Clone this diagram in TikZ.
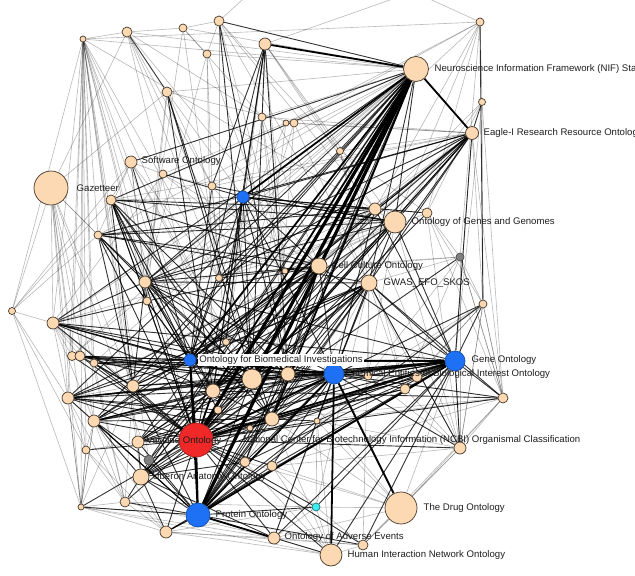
\documentclass[tikz,border=0pt]{standalone}
\usepackage{fontspec}
\setmainfont{Liberation Sans}
\usetikzlibrary{backgrounds}
\definecolor{peach}{RGB}{252,217,178}
\definecolor{nborder}{RGB}{70,55,40}
\definecolor{nblue}{RGB}{30,112,245}
\definecolor{nred}{RGB}{240,40,40}
\definecolor{ngrey}{RGB}{128,128,128}
\definecolor{ncyan}{RGB}{60,235,235}
\definecolor{ltext}{RGB}{30,30,30}
\tikzset{
  nd/.style={circle, draw=nborder, line width=0.7pt, fill=peach, inner sep=0pt},
  bl/.style={nd, fill=nblue, draw=nblue!70!black},
  rd/.style={nd, fill=nred, draw=nred!70!black},
  gy/.style={nd, fill=ngrey, draw=ngrey!60!black},
  cn/.style={nd, fill=ncyan, draw=ncyan!50!black},
  lbl/.style={anchor=west, inner sep=0.5pt, text=ltext, font=\fontsize{9.6}{11}\selectfont},
  eg/.style={draw=black, opacity=0.28, line width=0.6pt},
  em/.style={draw=black, opacity=0.8, line width=0.9pt},
  et/.style={draw=black, line width=1.8pt},
  ev/.style={draw=black, line width=3.2pt},
}
\begin{document}
\begin{tikzpicture}[x=1pt,y=-1pt]
\clip (0,0) rectangle (635,576);
% nodes
\node[nd, minimum size=6pt]  (t1) at (83,39) {};
\node[nd, minimum size=10pt] (t2) at (127,32) {};
\node[nd, minimum size=8pt]  (t3) at (183,28) {};
\node[nd, minimum size=10pt] (t4) at (219,21) {};
\node[nd, minimum size=12pt] (t5) at (265,44) {};
\node[nd, minimum size=8pt]  (t6) at (207,54) {};
\node[nd, minimum size=10pt] (t7) at (167,92) {};
\node[nd, minimum size=25pt] (nif) at (416,69) {};
\node[nd, minimum size=8pt]  (t8) at (480,22) {};
\node[nd, minimum size=7pt]  (t9) at (482,102) {};
\node[nd, minimum size=13pt] (eagle) at (472,133) {};
\node[nd, minimum size=8pt]  (t10) at (262,117) {};
\node[nd, minimum size=6pt]  (t11) at (286,123) {};
\node[nd, minimum size=8pt]  (t12) at (294,123) {};
\node[nd, minimum size=7pt]  (t13) at (340,151) {};
\node[nd, minimum size=12pt] (sw) at (131,162) {};
\node[nd, minimum size=8pt]  (t14) at (163,174) {};
\node[nd, minimum size=8pt]  (t15) at (212,186) {};
\node[bl, minimum size=12pt] (b1) at (243,197) {};
\node[nd, minimum size=34pt] (gaz) at (51,188) {};
\node[nd, minimum size=10pt] (t16) at (111,200) {};
\node[nd, minimum size=8pt]  (t17) at (98,235) {};
\node[nd, minimum size=12pt] (t18) at (375,209) {};
\node[nd, minimum size=22pt] (ogg) at (395,222) {};
\node[nd, minimum size=10pt] (t19) at (427,213) {};
\node[gy, minimum size=8pt]  (g1) at (460,257) {};
\node[nd, minimum size=16pt] (cco) at (319,266) {};
\node[nd, minimum size=6pt]  (t20) at (285,271) {};
\node[nd, minimum size=7pt]  (t21) at (219,278) {};
\node[nd, minimum size=16pt] (gwas) at (369,283) {};
\node[nd, minimum size=8pt]  (t22) at (483,304) {};
\node[nd, minimum size=7pt]  (t23) at (226,342) {};
\node[nd, minimum size=12pt] (t24) at (145,282) {};
\node[nd, minimum size=8pt]  (t25) at (147,301) {};
\node[nd, minimum size=7pt]  (t28) at (12,311) {};
\node[nd, minimum size=12pt] (t29) at (53,323) {};
\node[nd, minimum size=9pt]  (t31) at (72,356) {};
\node[nd, minimum size=10pt] (t32) at (80,356) {};
\node[nd, minimum size=8pt]  (t33) at (94,363) {};
\node[bl, minimum size=12pt] (obi) at (190,360) {};
\node[bl, minimum size=20pt] (go) at (455,361) {};
\node[bl, minimum size=20pt] (chebi) at (334,374) {};
\node[nd, minimum size=20pt] (t35) at (252,379) {};
\node[nd, minimum size=14pt] (t36) at (288,374) {};
\node[nd, minimum size=12pt] (t37) at (133,386) {};
\node[nd, minimum size=14pt] (t38) at (213,391) {};
\node[nd, minimum size=12pt] (t39) at (68,398) {};
\node[nd, minimum size=8pt]  (t40) at (218,410) {};
\node[nd, minimum size=14pt] (t41) at (272,419) {};
\node[nd, minimum size=6pt]  (t42) at (250,428) {};
\node[nd, minimum size=12pt] (t43) at (94,421) {};
\node[nd, minimum size=6pt]  (t44) at (317,421) {};
\node[nd, minimum size=8pt]  (t45) at (368,376) {};
\node[nd, minimum size=10pt] (t46) at (417,377) {};
\node[nd, minimum size=10pt] (t47) at (405,389) {};
\node[nd, minimum size=10pt] (t55) at (503,398) {};
\node[nd, minimum size=12pt] (vac) at (138,442) {};
\node[gy, minimum size=10pt] (g2) at (149,460) {};
\node[nd, minimum size=16pt] (ub) at (141,477) {};
\node[nd, minimum size=10pt] (t48) at (245,462) {};
\node[nd, minimum size=10pt] (t49) at (272,466) {};
\node[nd, minimum size=12pt] (t50) at (460,448) {};
\node[nd, minimum size=8pt]  (t52) at (86,450) {};
\node[nd, minimum size=6pt]  (t53) at (81,507) {};
\node[nd, minimum size=10pt] (t54) at (125,502) {};
\node[nd, minimum size=12pt] (t56) at (166,532) {};
\node[bl, minimum size=24pt] (pro) at (198,515) {};
\node[cn, minimum size=8pt]  (cy) at (316,507) {};
\node[nd, minimum size=32pt] (drug) at (401,508) {};
\node[nd, minimum size=12pt] (oae) at (274,538) {};
\node[nd, minimum size=10pt] (t57) at (363,545) {};
\node[nd, minimum size=22pt] (hino) at (331,555) {};
\node[rd, minimum size=34pt] (ncbi) at (196,440) {};
\coordinate (off1) at (330,-80);
\coordinate (off2) at (560,-60);
\coordinate (off3) at (300,-60);
% edges
\begin{scope}[on background layer]
\foreach \h/\ts in {
 t1/{t28,t29,t31,t32,t33,t39,t43,t52,t53,t17,t24,t25,obi,t37,vac,ub,t2,t8,t21,t23,ogg,g2,ncbi,t38},
 gaz/{t29,t31,t39,t43,t52,t53,t54,t17,t24,t2,t7,t37,g2},
 t28/{t16,gaz,t29,t17,t53,t52,t39,sw},
 t2/{t3,t10,t36,t38,t21,t15,cco},
 t3/{t4,t6,t21,t24,t10},
 t4/{t6,t13,t18,gwas,t21,t20,off1},
 t5/{t10,t13,t18,ogg,t20,t23,off2},
 t6/{t15,t38,t24,t20},
 t7/{t15,t24,t25,b1,t12},
 t8/{t9,t18,ogg,g1,t12,t11,off3,t13,t19},
 t9/{t19,ogg,t18,t22,go},
 eagle/{t12,t11,t13,t10,t15,t21,t20,t23,t16,t22,t55,go},
 nif/{t1,t2,t3,t6,t7,t10,t14,t15,t17,t25,t31,t33},
 t10/{t20,cco,t23,t36},
 t11/{t21,t35},
 t12/{gwas,t38,t41},
 t13/{t19,gwas,t21,t47,t50},
 sw/{t16,t14,t17,t24,t25,t21,t23,t35},
 t14/{t15,t20,t24,t29,cco},
 t15/{t20,t21,t23},
 b1/{t16,t17,t25,t29,t31},
 g1/{t22,cco,t20,gwas,t47,t55,t45,t50},
 t18/{t19,t20,t21,cco},
 ogg/{t20,t21,t23,t29,t39,t45,t50},
 t19/{t20,t22,g1,t55,t50},
 t22/{t47,t46,t55,t45,t50,t44},
 gwas/{t44,t49,t48,t45,t46,t47,oae,cy,t57,t50},
 t52/{t53,t54,t56,vac},
 t53/{t54,t56,pro,oae,hino,t39,t43,t52,t37},
 t54/{t56,oae,cy,t37,t33},
 t56/{oae,cy,hino,t57},
 oae/{hino,cy,t57,drug},
 cy/{hino,t57,drug,t44,t49},
 t57/{hino,drug,t50,t55},
 drug/{t50,t44,t49,t48,t55,t41,t36},
 t50/{t49,t44,t55,t45,t47,go,t22},
 t55/{t44,t41,t49,t22,g1,t9},
 hino/{t44,t48,t49,t41},
 t29/{t31,t32,t33,t37,t39,t43},
 t39/{t37,t43,t52,t53,t54},
 t43/{t52,t53,t54,t56},
 go/{drug}}
 {\foreach \t in \ts {\draw[eg] (\h) -- (\t);}}
\foreach \h/\ts in {
 go/{t35,t36,t38,t41,t37,t39,t43,ub,vac,t55,t50,t47,t46,t45,t22,gwas,cco,t18,ogg,eagle,t24,oae,hino,t57,cy,t44,t42,t48,t49,t56,t29,t33},
 obi/{t32,t31,t33,t29,t24,t25,t37,t39,t43,t35,t36,b1,t15,t21,cco,gwas,ogg,t18,eagle,sw,t16,t17,t23,t5},
 ncbi/{t35,t36,t40,t41,t42,t48,t49,t44,ub,g2,vac,t43,t39,t37,t33,t32,t31,t29,t24,t25,t17,t16,b1,cco,gwas,ogg,t18,eagle,t19,g1,t22,t50,t47,t46,t45,cy,oae,hino,t57,t54,t56,t52,t53},
 pro/{ub,g2,vac,t54,t56,t53,t43,t39,t37,t35,t36,t41,t48,t49,cco,gwas,ogg,hino,cy,t57,t44,t42,eagle,t22},
 chebi/{t35,t36,t38,t41,t37,t39,t43,ub,vac,t33,t24,t29,cco,gwas,ogg,t18,b1,t45,t46,t47,t50,t55,oae,t44,t42,t48,t49},
 nif/{t4,t16,t24,t37,t39,t43,ub,vac,t48,cco,t21,t29,g2,sw,t36,gwas,ogg},
 eagle/{t9,t18,ogg,cco,gwas,obi,t24,t38,t35,t17,b1,t21},
 cco/{t24,t25,t37,t39,t43,t35,t36,t38,t41,t21,t17,t16,b1,ub,vac,g2,t48},
 gwas/{t24,t37,t39,t43,t35,t36,t38,t41,ub,vac,t17,t50,t55},
 ogg/{t16,t17,t24,t35,t38,b1,t15},
 t18/{t16,t17,t24},
 b1/{t14,t24,t35,t36,t38,t23,ogg,t18,t19},
 t5/{t15,b1,t35,t36,t38},
 t4/{t36,t35},
 t2/{t7},
 t7/{t38,t35,t41},
 t16/{t24,t25,t35,t36,t38,t41,t37},
 t17/{t24,t25,t37,t35},
 t24/{t35,t36,t38,t41,t37,t25,t40},
 t29/{t35,t36,t24,t25,t38,obi},
 t32/{t35,t36,t38,t37},
 t31/{t35,t36},
 t33/{t35,t37},
 t39/{t35,t36,t38,t41,t40,t42},
 t43/{t35,t36,t38,t41,ub,g2,pro},
 ub/{t35,t38,t41,t48,t54,t56,oae,g2,vac},
 vac/{t35,t38,t41},
 t56/{pro},
 t41/{t35,t36,t38,t44,t47,t46},
 t55/{ncbi,t38},
 t8/{t22}}
 {\foreach \t in \ts {\draw[em] (\h) -- (\t);}}
\foreach \h/\ts in {
 go/{obi,ncbi,pro,chebi},
 obi/{chebi,ncbi,pro},
 ncbi/{chebi,pro,t38},
 pro/{chebi,oae},
 chebi/{drug,hino},
 nif/{t38,t41,obi,b1,eagle,t5}}
 {\foreach \t in \ts {\draw[et] (\h) -- (\t);}}
\foreach \t in {ncbi,pro,t35} {\draw[ev] (nif) -- (\t);}
\end{scope}
% labels
\node[lbl] (Lnif) at (434,69) {Neuroscience Information Framework (NIF) Standard Ontology};
\node[lbl] (Leagle) at (483,133) {Eagle-I Research Resource Ontology};
\node[lbl] (Lsw) at (141,161) {Software Ontology};
\node[lbl] (Lgaz) at (76,188) {Gazetteer};
\node[lbl] (Logg) at (411,222) {Ontology of Genes and Genomes};
\node[lbl] (Lcco) at (331,266) {Cell Culture Ontology};
\node[lbl] (Lgwas) at (383,283) {GWAS\_EFO\_SKOS};
\node[lbl, fill=white, inner sep=1.2pt] (Lobi) at (198,360) {Ontology for Biomedical Investigations};
\node[lbl] (Lgo) at (471,360) {Gene Ontology};
\node[lbl] (Lchebi) at (345,374) {Chemical Entities of Biological Interest Ontology};
\node[lbl] (Lvac) at (146,441) {Vaccine Ontology};
\node[lbl, anchor=east] (Lncbi) at (581,440) {National Center for Biotechnology Information (NCBI) Organismal Classification};
\node[lbl] (Lub) at (152,477) {Uberon Anatomy Ontology};
\node[lbl] (Ldrug) at (423,508) {The Drug Ontology};
\node[lbl] (Lpro) at (215,515) {Protein Ontology};
\node[lbl] (Loae) at (284,537) {Ontology of Adverse Events};
\node[lbl] (Lhino) at (347,555) {Human Interaction Network Ontology};
\end{tikzpicture}
\end{document}
